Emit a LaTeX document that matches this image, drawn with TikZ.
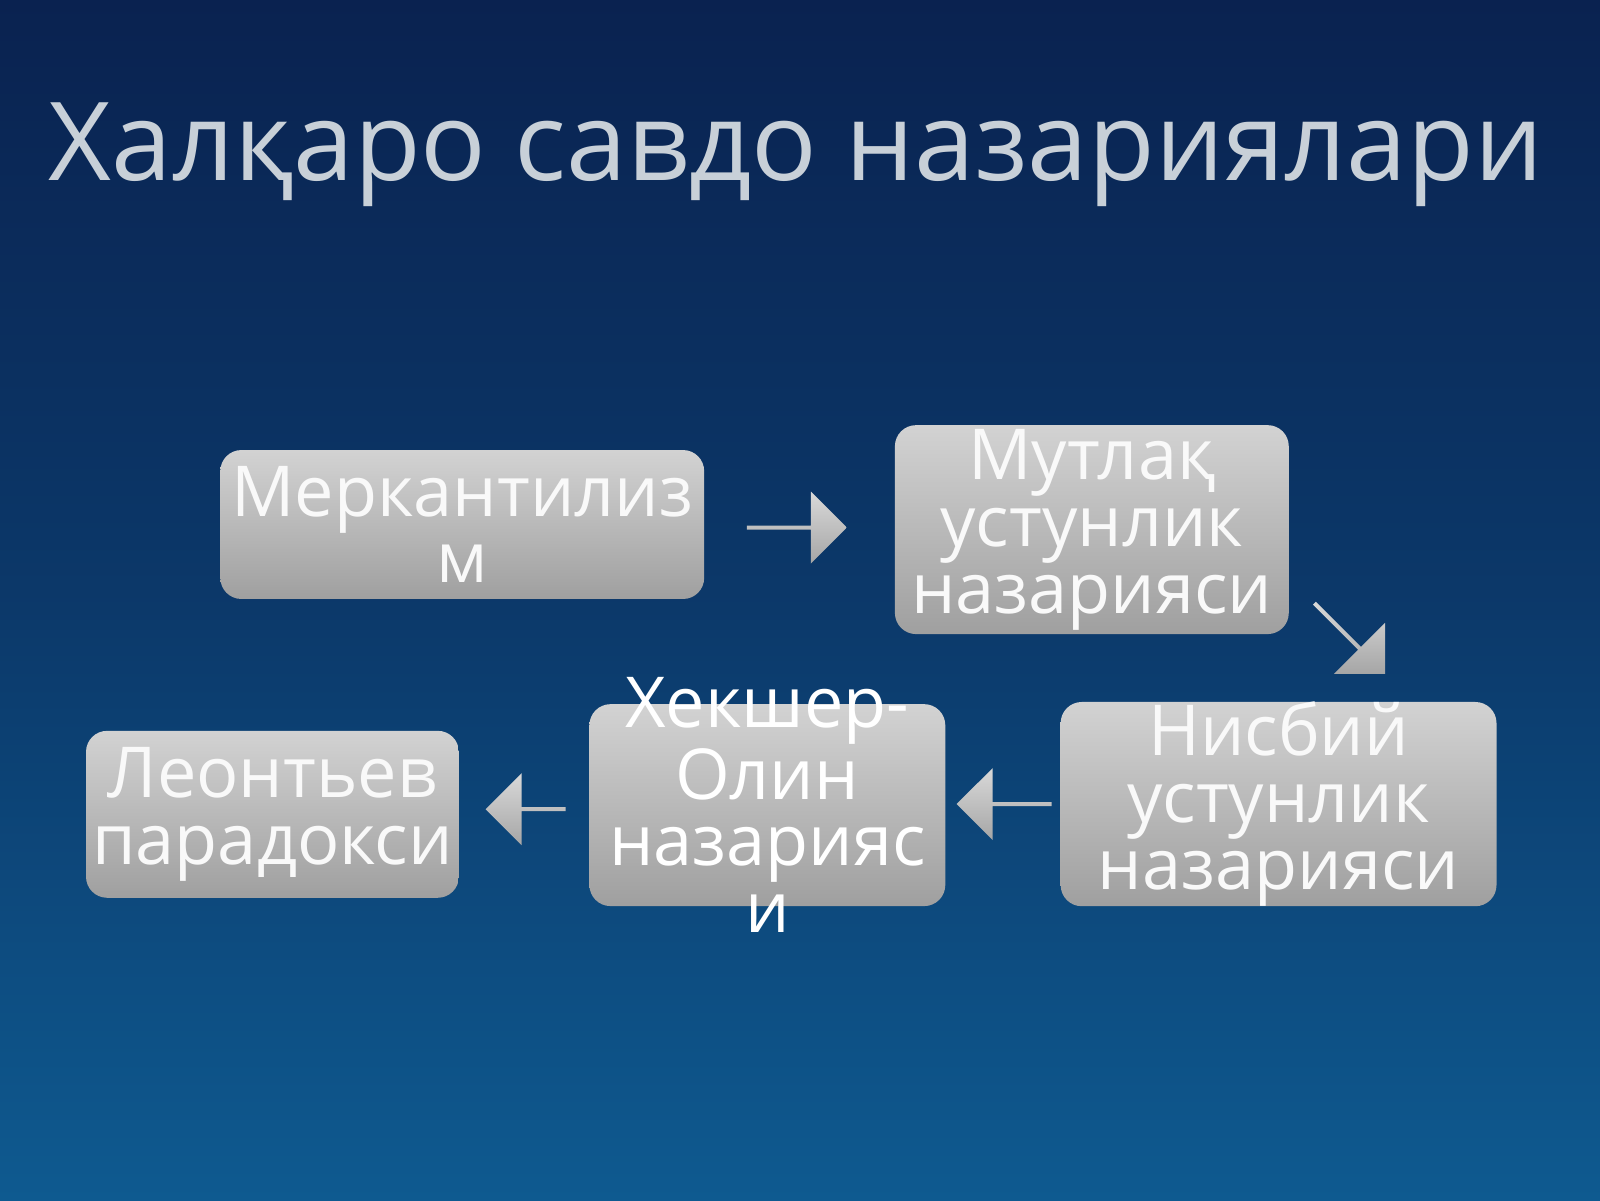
\documentclass[tikz,border=0pt]{standalone}
\usepackage{fontspec}
\setmainfont{Open Sans}
\usetikzlibrary{shapes.arrows}
\definecolor{bgtop}{HTML}{0A2250}
\definecolor{bgbot}{HTML}{0E5A90}
\definecolor{ttl}{HTML}{C8D0D8}
\tikzset{
    box/.style={rounded corners=6pt, top color=gray!35, bottom color=gray!75,
        text=white!95!gray, align=center, inner sep=0pt,
        font=\fontsize{20}{19}\selectfont},
    blk/.style={single arrow, single arrow head extend=0.12cm, minimum height=1cm,
        minimum width=0.72cm, inner sep=0pt, top color=gray!30, bottom color=gray!70}
}
\begin{document}
\begin{tikzpicture}[x=0.010204cm, y=-0.010204cm]
    \shade[top color=bgtop, bottom color=bgbot, middle color=bgtop!60!bgbot] (0,0) rectangle (1568,1176);
    \useasboundingbox (0,0) rectangle (1568,1176);
    \node[text=ttl, font=\fontsize{31}{34}\selectfont] at (780,152) (title) {Халқаро савдо назариялари};

    \node[box, minimum width=4.84cm, minimum height=1.49cm] at (453,514) (merk) {Меркантилиз\\м};
    \node[box, minimum width=3.94cm, minimum height=2.09cm] at (1070,519) (mutlaq) {Мутлақ\\устунлик\\назарияси};
    \node[box, minimum width=4.36cm, minimum height=2.0cm] at (1253,788) (nisbiy) {Нисбий\\устунлик\\назарияси};
    \node[box, minimum width=3.56cm, minimum height=2.02cm] at (752,789) (hek) {};
    \node[align=center, text=white, font=\fontsize{20}{19}\selectfont] at (752,789) (hektxt) {Хекшер-\\Олин\\назарияс\\и};
    \node[box, minimum width=3.73cm, minimum height=1.67cm] at (267,798) (leon) {Леонтьев\\парадокси};

    \node[blk] at (780,517) (a1) {};
    \node[blk, rotate=-45] at (1322,625) (a2) {};
    \node[blk, rotate=180, minimum height=0.95cm] at (985,788) (a3) {};
    \node[blk, rotate=180, minimum height=0.8cm] at (516,793) (a4) {};
\end{tikzpicture}
\end{document}
